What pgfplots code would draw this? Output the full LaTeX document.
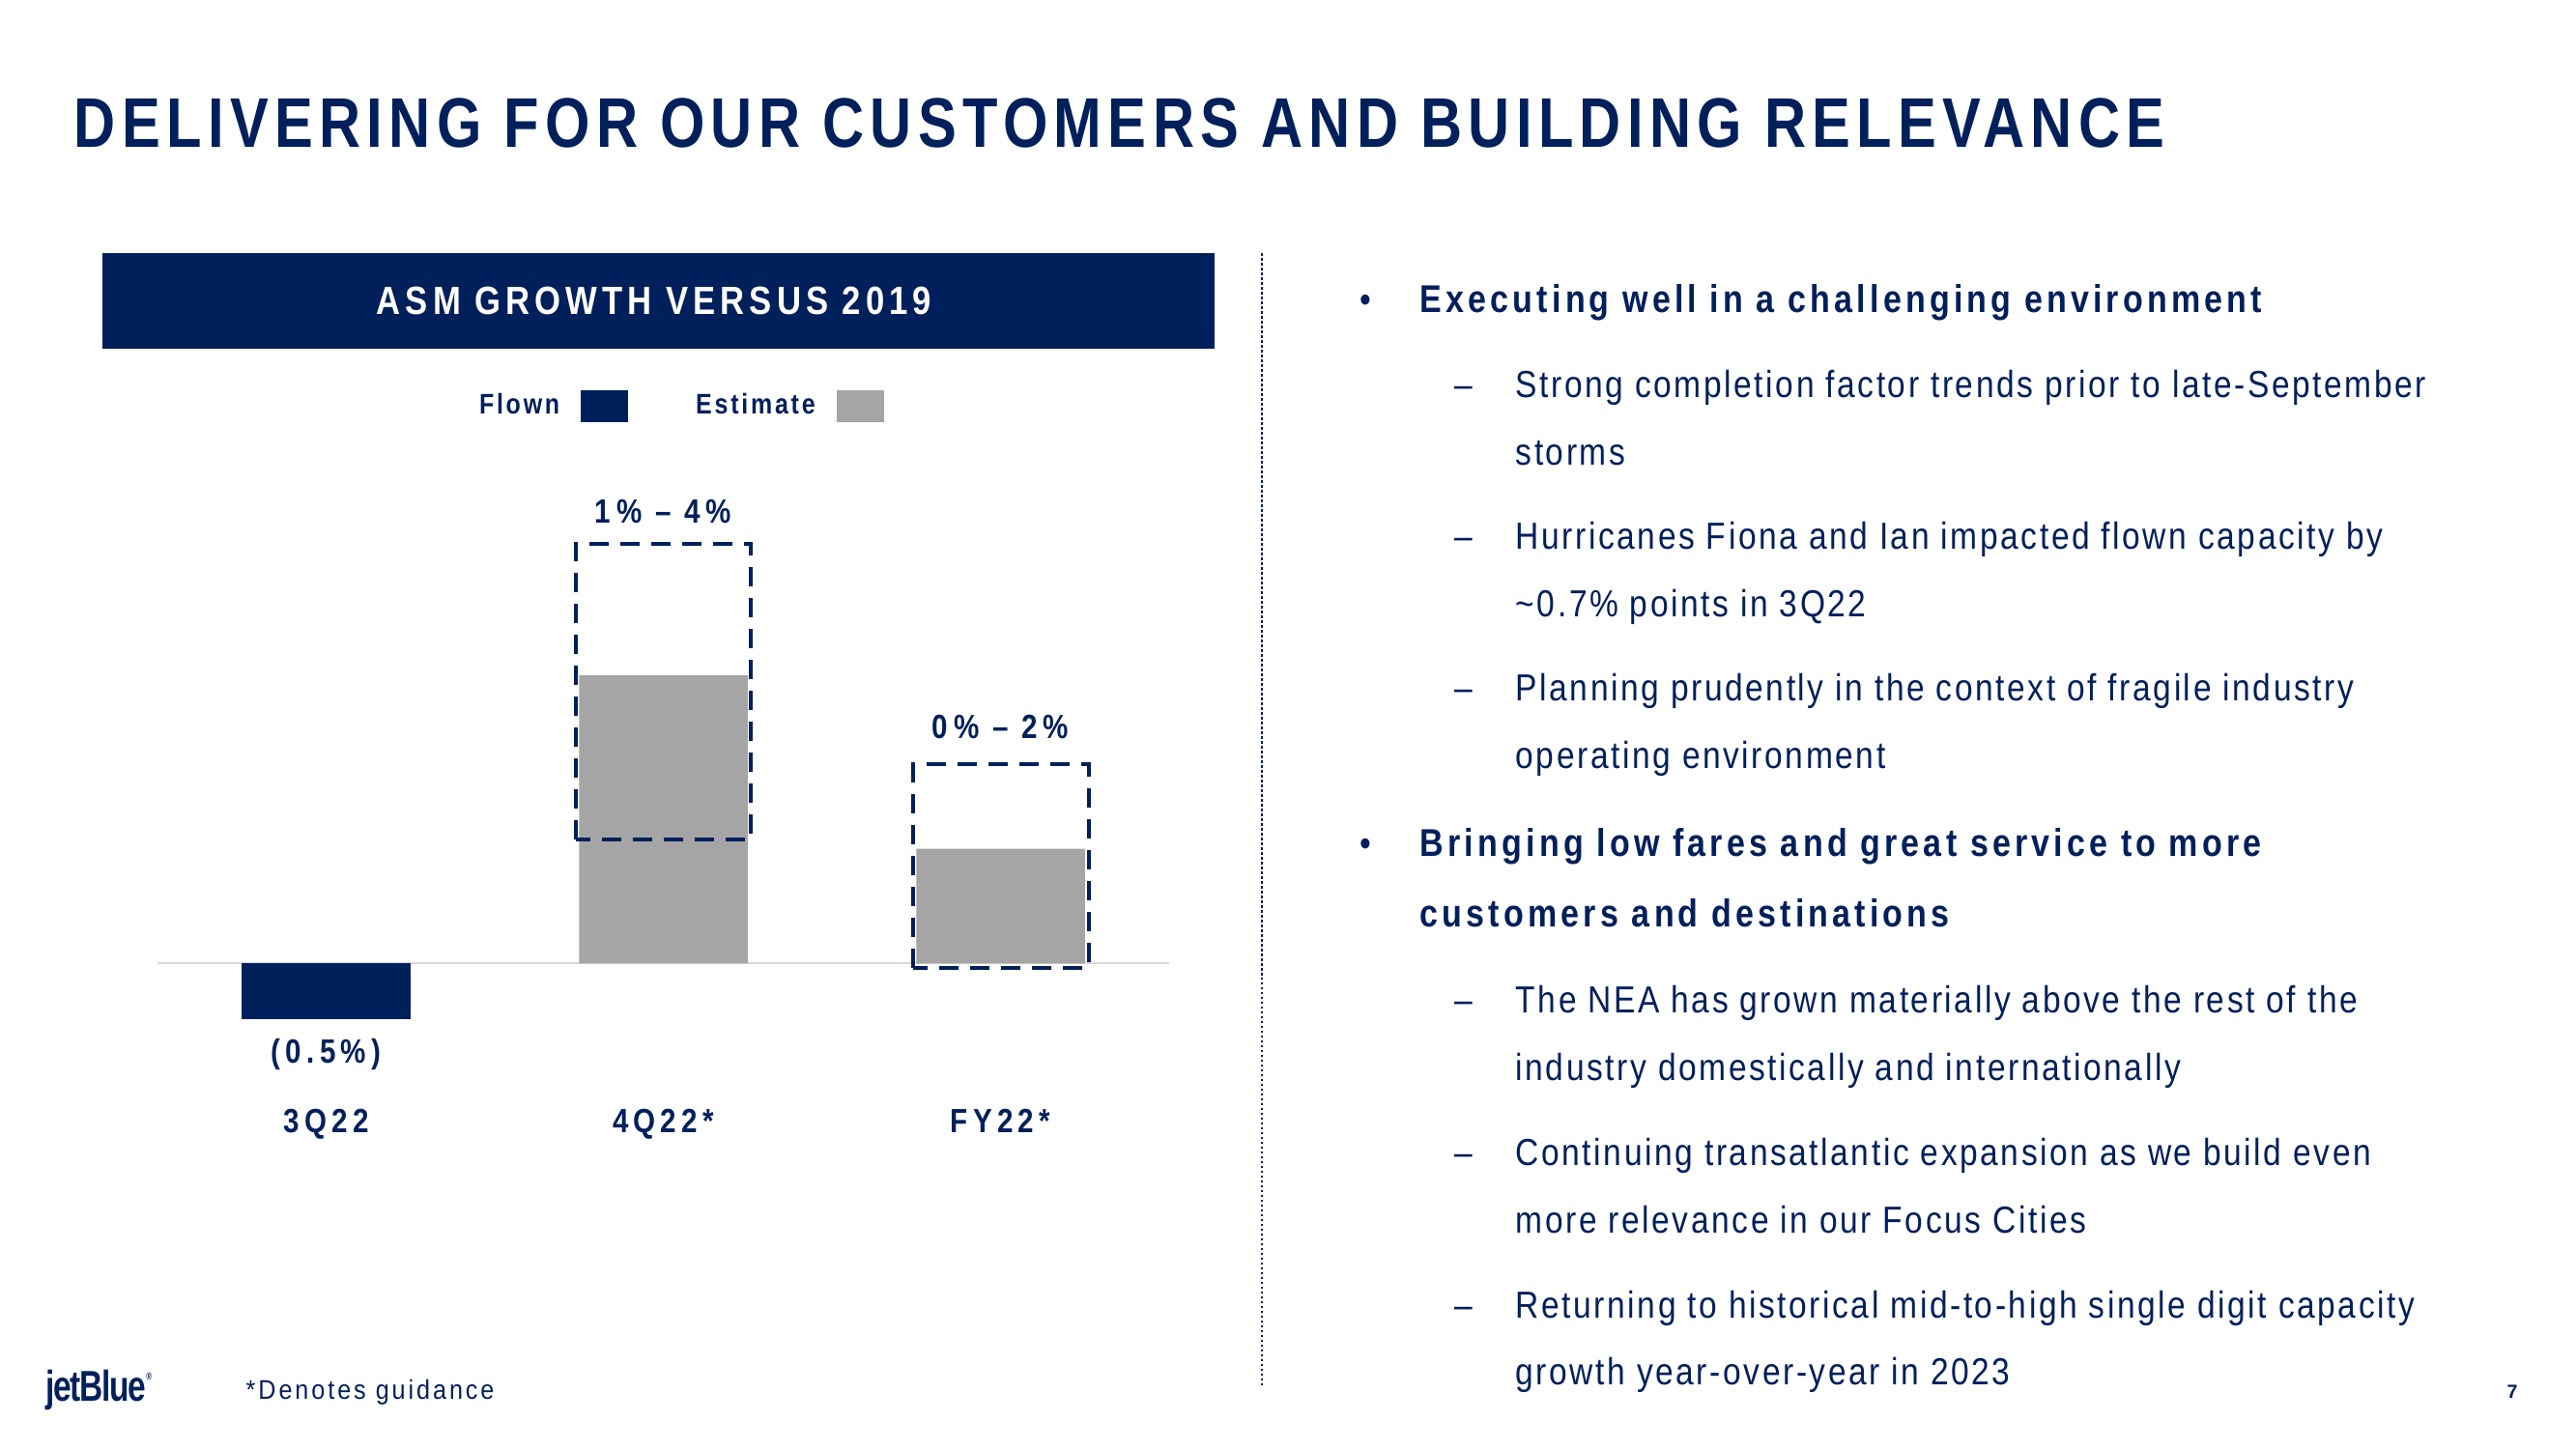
\documentclass[border=0pt]{standalone}
\usepackage{fontspec}
\setmainfont{Liberation Sans}
\usepackage{pgfplots}
\pgfplotsset{compat=1.18}
\definecolor{navy}{HTML}{00205B}
\definecolor{barg}{HTML}{A5A5A5}
\definecolor{basel}{HTML}{D9D9D9}
\newfontfamily\titlefont[FakeStretch=0.82,LetterSpace=8.75]{Liberation Sans}
\newfontfamily\headfont[FakeStretch=0.85,LetterSpace=12.4]{Liberation Sans}
\newfontfamily\labfont[FakeStretch=0.85,LetterSpace=15]{Liberation Sans}
\newfontfamily\rangefont[FakeStretch=0.85,LetterSpace=16.5]{Liberation Sans}
\newfontfamily\legfont[FakeStretch=0.85,LetterSpace=9.5]{Liberation Sans}
\newfontfamily\bulfont[FakeStretch=0.85,LetterSpace=10.4]{Liberation Sans}
\newfontfamily\bodyfont[FakeStretch=0.86,LetterSpace=6.6]{Liberation Sans}
\newfontfamily\notefont[FakeStretch=0.9,LetterSpace=10.5]{Liberation Sans}
\newfontfamily\logofont[FakeStretch=0.75,LetterSpace=-3]{Liberation Sans}
\newcommand{\Hf}{\bulfont\bfseries\fontsize{11.4}{13}\selectfont}
\newcommand{\Bf}{\bodyfont\fontsize{11.1}{13}\selectfont}
\begin{document}
\begin{tikzpicture}
\fill[white] (0,0) rectangle (26.66,-15);
\path[use as bounding box] (0,0) rectangle (26.66,-15);
\begin{scope}[x=0.1mm,y=-0.1mm]
% title
\node[anchor=base west,inner sep=0,text=navy,font=\titlefont\bfseries\fontsize{20.7}{24}\selectfont] at (76,152) {DELIVERING FOR OUR CUSTOMERS AND BUILDING RELEVANCE};
% header box
\fill[navy] (106,262) rectangle (1257,361);
\node[anchor=base,inner sep=0,text=white,font=\headfont\bfseries\fontsize{11.6}{14}\selectfont] at (677,325) {ASM GROWTH VERSUS 2019};
% separator
\draw[navy,line width=0.12mm,dash pattern=on 0.25mm off 0.25mm] (1306,262) -- (1306,1436);
% right column
\node[anchor=base,inner sep=0,text=navy,font=\Bf] at (1413,323) {•};
\node[anchor=base,inner sep=0,text=navy,font=\Bf] at (1413,886) {•};
\foreach \yy in {411,568,725,1048,1206,1364}{
  \node[anchor=base,inner sep=0,text=navy,font=\Bf] at (1515,\yy) {–};
}
\begin{scope}[every node/.style={anchor=base west,inner sep=0,text=navy}]
\node[font=\Hf] at (1469,323) {Executing well in a challenging environment};
\node[font=\Bf] at (1568,411) {Strong completion factor trends prior to late-September};
\node[font=\Bf] at (1568,481) {storms};
\node[font=\Bf] at (1568,568) {Hurricanes Fiona and Ian impacted flown capacity by};
\node[font=\Bf] at (1568,638) {\textasciitilde0.7\% points in 3Q22};
\node[font=\Bf] at (1568,725) {Planning prudently in the context of fragile industry};
\node[font=\Bf] at (1568,795) {operating environment};
\node[font=\Hf] at (1469,886) {Bringing low fares and great service to more};
\node[font=\Hf] at (1469,959) {customers and destinations};
\node[font=\Bf] at (1568,1048) {The NEA has grown materially above the rest of the};
\node[font=\Bf] at (1568,1118) {industry domestically and internationally};
\node[font=\Bf] at (1568,1206) {Continuing transatlantic expansion as we build even};
\node[font=\Bf] at (1568,1276) {more relevance in our Focus Cities};
\node[font=\Bf] at (1568,1364) {Returning to historical mid-to-high single digit capacity};
\node[font=\Bf] at (1568,1433) {growth year-over-year in 2023};
% footer
\node[font=\logofont\bfseries\fontsize{12.7}{14}\selectfont] at (47,1450) {jetBlue\raisebox{0.9ex}{\fontsize{3}{3}\selectfont ®}};
\node[font=\notefont\fontsize{7.96}{10}\selectfont] at (254,1448) {*Denotes guidance};
\end{scope}
\node[anchor=base,inner sep=0,text=navy,font=\bfseries\fontsize{5.6}{7}\selectfont] at (2600,1447) {7};
\end{scope}
% chart
\begin{axis}[
  at={(1.63cm,-11.76cm)}, anchor=south west,
  scale only axis, width=10.47cm, height=6.69cm,
  xmin=-0.5, xmax=2.5, ymin=-1.64, ymax=4.5,
  axis line style={draw=none},
  ytick=\empty,
  xtick={0,1,2}, xticklabels={3Q22,4Q22*,FY22*},
  major tick length=0pt,
  xticklabel style={anchor=base,inner sep=0pt,yshift=0.35mm,text=navy,font=\labfont\bfseries\fontsize{9.9}{12}\selectfont},
  clip=false,
  legend columns=2,
  legend plot pos=right,
  legend style={at={(0.518,1.13)},anchor=center,draw=none,fill=none,
    font=\legfont\bfseries\fontsize{8.35}{10}\selectfont,text=navy,
    nodes={inner sep=0pt},
    /tikz/every odd column/.append style={column sep=2.2mm},
    /tikz/every even column/.append style={column sep=7.0mm}},
]
\addplot[draw=basel,line width=0.2mm,forget plot] coordinates {(-0.5,0) (2.5,0)};
\addplot[ybar,bar width=0.5,bar shift=0pt,fill=navy,draw=none,
  legend image code/.code={\fill[navy] (0mm,-1.65mm) rectangle (4.9mm,1.65mm);}]
  coordinates {(0,-0.53)};
\addlegendentry{Flown}
\addplot[ybar,bar width=0.5,bar shift=0pt,fill=barg,draw=none,
  legend image code/.code={\fill[barg] (0mm,-1.65mm) rectangle (4.9mm,1.65mm);}]
  coordinates {(1,2.74) (2,1.09)};
\addlegendentry{Estimate}
\addplot[navy,line width=0.4mm,dash pattern=on 2mm off 1.2mm,forget plot]
  coordinates {(0.74,1.18) (0.74,3.99) (1.26,3.99) (1.26,1.18)} -- cycle;
\addplot[navy,line width=0.4mm,dash pattern=on 2mm off 1.2mm,forget plot]
  coordinates {(1.742,-0.04) (1.742,1.89) (2.261,1.89) (2.261,-0.04)} -- cycle;
\node[anchor=base,inner sep=0,text=navy,font=\labfont\bfseries\fontsize{9.9}{12}\selectfont] at (axis cs:0,-0.945) {(0.5\%)};
\node[anchor=base,inner sep=0,text=navy,font=\rangefont\bfseries\fontsize{9.9}{12}\selectfont] at (axis cs:1,4.18) {1\% – 4\%};
\node[anchor=base,inner sep=0,text=navy,font=\rangefont\bfseries\fontsize{9.9}{12}\selectfont] at (axis cs:2,2.14) {0\% – 2\%};
\end{axis}
\end{tikzpicture}
\end{document}
